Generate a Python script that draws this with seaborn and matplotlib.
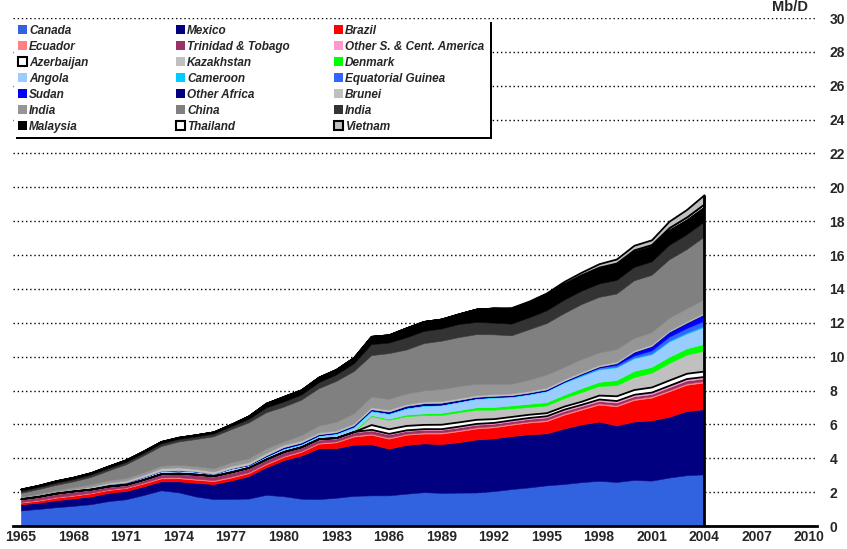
import matplotlib.pyplot as plt
import matplotlib.patches as mpatches
import seaborn as sns
import numpy as np

# Produção anual (Mb/D), 1965-2004
years = list(range(1965, 2005))

canada = [0.92, 1.01, 1.11, 1.19, 1.29, 1.47, 1.58, 1.83, 2.11, 1.99,
          1.74, 1.59, 1.60, 1.62, 1.84, 1.76, 1.61, 1.59, 1.67, 1.78,
          1.81, 1.81, 1.91, 2.00, 1.96, 1.97, 1.98, 2.06, 2.18, 2.28,
          2.40, 2.48, 2.59, 2.67, 2.60, 2.72, 2.68, 2.86, 3.00, 3.05]
mexico = [0.36, 0.37, 0.41, 0.44, 0.46, 0.49, 0.49, 0.51, 0.53, 0.65,
          0.81, 0.89, 1.09, 1.33, 1.63, 2.13, 2.55, 3.00, 2.93, 3.02,
          3.02, 2.76, 2.88, 2.88, 2.88, 2.98, 3.13, 3.12, 3.13, 3.14,
          3.07, 3.28, 3.41, 3.50, 3.34, 3.45, 3.56, 3.59, 3.79, 3.85]
brazil = [0.10, 0.12, 0.15, 0.16, 0.18, 0.17, 0.17, 0.17, 0.17, 0.18,
          0.18, 0.17, 0.17, 0.17, 0.17, 0.19, 0.22, 0.27, 0.34, 0.48,
          0.56, 0.59, 0.60, 0.58, 0.62, 0.65, 0.65, 0.65, 0.67, 0.69,
          0.72, 0.81, 0.87, 1.00, 1.13, 1.27, 1.34, 1.50, 1.55, 1.58]
ecuador = [0.04, 0.04, 0.04, 0.04, 0.04, 0.04, 0.04, 0.05, 0.06, 0.06,
           0.06, 0.06, 0.06, 0.06, 0.06, 0.06, 0.06, 0.06, 0.06, 0.07,
           0.07, 0.07, 0.06, 0.07, 0.07, 0.07, 0.07, 0.07, 0.07, 0.07,
           0.08, 0.08, 0.08, 0.08, 0.08, 0.08, 0.08, 0.08, 0.08, 0.08]
trinidad = [0.14, 0.16, 0.18, 0.19, 0.16, 0.14, 0.13, 0.14, 0.17, 0.19,
            0.22, 0.21, 0.23, 0.23, 0.21, 0.21, 0.19, 0.18, 0.16, 0.17,
            0.18, 0.17, 0.16, 0.15, 0.15, 0.15, 0.15, 0.14, 0.13, 0.14,
            0.14, 0.14, 0.13, 0.13, 0.14, 0.14, 0.13, 0.16, 0.17, 0.15]
other_sca = [0.05, 0.05, 0.05, 0.05, 0.05, 0.05, 0.05, 0.05, 0.05, 0.05,
             0.05, 0.05, 0.05, 0.05, 0.05, 0.05, 0.05, 0.06, 0.06, 0.06,
             0.07, 0.07, 0.07, 0.07, 0.07, 0.08, 0.08, 0.08, 0.09, 0.09,
             0.10, 0.11, 0.11, 0.12, 0.12, 0.12, 0.12, 0.12, 0.12, 0.12]
azerbaijan = [0.0] * 20 + [0.28, 0.27, 0.26, 0.25, 0.26, 0.25, 0.24, 0.22, 0.20, 0.19,
                           0.18, 0.18, 0.18, 0.23, 0.28, 0.28, 0.30, 0.31, 0.31, 0.32]
kazakhstan = [0.0] * 20 + [0.50, 0.53, 0.55, 0.55, 0.55, 0.57, 0.57, 0.53, 0.48, 0.43,
                           0.43, 0.47, 0.54, 0.54, 0.63, 0.74, 0.84, 1.00, 1.10, 1.20]
denmark = [0.0] * 15 + [0.01, 0.01, 0.03, 0.04, 0.05,
                        0.06, 0.07, 0.09, 0.10, 0.12, 0.12, 0.14, 0.16, 0.17, 0.19,
                        0.19, 0.20, 0.23, 0.24, 0.30, 0.36, 0.35, 0.37, 0.37, 0.41]
angola = [0.01, 0.01, 0.01, 0.02, 0.05, 0.10, 0.11, 0.14, 0.16, 0.17,
          0.16, 0.10, 0.20, 0.13, 0.14, 0.15, 0.13, 0.13, 0.18, 0.20,
          0.23, 0.28, 0.36, 0.45, 0.45, 0.48, 0.50, 0.55, 0.50, 0.55,
          0.65, 0.71, 0.72, 0.74, 0.75, 0.75, 0.74, 0.90, 0.87, 0.99]
cameroon = [0.0] * 13 + [0.01, 0.03,
                         0.04, 0.05, 0.05, 0.05, 0.06,
                         0.06, 0.06, 0.06, 0.05, 0.05, 0.05, 0.05, 0.05, 0.04, 0.04,
                         0.04, 0.04, 0.04, 0.04, 0.04, 0.04, 0.05, 0.05, 0.06, 0.07]
eq_guinea = [0.0] * 28 + [0.01, 0.01,
                          0.01, 0.02, 0.06, 0.08, 0.10, 0.12, 0.18, 0.24, 0.27, 0.30]
sudan = [0.0] * 34 + [0.06, 0.17, 0.21, 0.24, 0.27, 0.35]
other_africa = [0.0] * 13 + [0.02, 0.04,
                             0.06, 0.06, 0.05, 0.05, 0.06,
                             0.06, 0.08, 0.10, 0.10, 0.10, 0.08, 0.07, 0.06, 0.06, 0.06,
                             0.06, 0.05, 0.05, 0.05, 0.05, 0.05, 0.05, 0.05, 0.05, 0.05]
brunei = [0.06, 0.07, 0.07, 0.08, 0.09, 0.10, 0.11, 0.13, 0.16, 0.17,
          0.15, 0.15, 0.15, 0.15, 0.15, 0.14, 0.12, 0.10, 0.10, 0.11,
          0.11, 0.11, 0.10, 0.10, 0.10, 0.10, 0.10, 0.10, 0.10, 0.10,
          0.10, 0.10, 0.09, 0.09, 0.09, 0.09, 0.09, 0.08, 0.08, 0.08]
india = [0.06, 0.09, 0.11, 0.12, 0.14, 0.14, 0.15, 0.15, 0.15, 0.15,
         0.17, 0.18, 0.22, 0.23, 0.26, 0.19, 0.32, 0.42, 0.52, 0.59,
         0.63, 0.64, 0.62, 0.66, 0.71, 0.71, 0.67, 0.60, 0.57, 0.66,
         0.77, 0.72, 0.76, 0.74, 0.74, 0.73, 0.73, 0.75, 0.76, 0.79]
china = [0.22, 0.26, 0.30, 0.35, 0.44, 0.58, 0.82, 1.00, 1.16, 1.38,
         1.60, 1.90, 1.95, 2.12, 2.14, 2.06, 2.09, 2.20, 2.41, 2.50,
         2.45, 2.70, 2.60, 2.79, 2.85, 2.90, 2.93, 2.93, 2.86, 2.98,
         3.04, 3.18, 3.25, 3.28, 3.28, 3.40, 3.38, 3.45, 3.50, 3.70]
india_2 = [0.12, 0.12, 0.13, 0.13, 0.14, 0.14, 0.14, 0.14, 0.15, 0.15,
           0.15, 0.16, 0.17, 0.20, 0.28, 0.30, 0.30, 0.35, 0.38, 0.45,
           0.65, 0.62, 0.72, 0.72, 0.72, 0.77, 0.72, 0.69, 0.69, 0.70,
           0.75, 0.79, 0.79, 0.79, 0.80, 0.79, 0.79, 0.85, 0.87, 0.89]
malaysia = [0.10, 0.10, 0.11, 0.11, 0.11, 0.12, 0.12, 0.12, 0.12, 0.10,
            0.10, 0.10, 0.12, 0.18, 0.25, 0.30, 0.28, 0.30, 0.30, 0.35,
            0.46, 0.46, 0.56, 0.56, 0.56, 0.60, 0.76, 0.86, 0.86, 0.84,
            0.88, 0.89, 0.88, 0.90, 0.92, 0.89, 0.88, 0.87, 0.86, 0.85]
thailand = [0.0] * 28 + [0.03, 0.04,
                         0.05, 0.06, 0.06, 0.07, 0.08, 0.12, 0.12, 0.15, 0.17, 0.19]
vietnam = [0.0] * 28 + [0.06, 0.08,
                        0.10, 0.13, 0.15, 0.20, 0.24, 0.27, 0.28, 0.38, 0.44, 0.54]

series = [canada, mexico, brazil, ecuador, trinidad, other_sca,
          azerbaijan, kazakhstan, denmark, angola, cameroon, eq_guinea,
          sudan, other_africa, brunei, india, china, india_2,
          malaysia, thailand, vietnam]
names = ["Canada", "Mexico", "Brazil", "Ecuador", "Trinidad & Tobago",
         "Other S. & Cent. America", "Azerbaijan", "Kazakhstan", "Denmark",
         "Angola", "Cameroon", "Equatorial Guinea", "Sudan", "Other Africa",
         "Brunei", "India", "China", "India", "Malaysia", "Thailand", "Vietnam"]
colors = ["#3162e0", "#000080", "#ff0000", "#ff8080", "#993366", "#ff99cc",
          "#ffffff", "#c0c0c0", "#00ff00", "#99ccff", "#00ccff", "#3366ff",
          "#0000ff", "#000080", "#c0c0c0", "#969696", "#808080", "#333333",
          "#000000", "#ffffff", "#c0c0c0"]
outlined = [6, 19, 20]  # Azerbaijan, Thailand, Vietnam

sns.set_theme(style="white")
plt.rcParams['font.family'] = ['Liberation Sans', 'DejaVu Sans']

fig = plt.figure(figsize=(8.47, 5.49), dpi=100)
W, H = 847, 549
ax = fig.add_axes([13 / W, 1 - 526 / H, (817 - 13) / W, (526 - 18) / H])

polys = ax.stackplot(years, *series, colors=colors, zorder=2)
for i, p in enumerate(polys):
    if i in outlined:
        p.set_edgecolor("black")
        p.set_linewidth(1.3)
        p.set_zorder(3)
    else:
        p.set_edgecolor(colors[i])
        p.set_linewidth(0.4)

# linha vertical no último ano
total = np.sum(np.array(series), axis=0)
ax.vlines(years[-1], 0, total[-1], color="black", lw=2, zorder=4)

ax.set_xlim(1964.55, 2010.45)
ax.set_ylim(0, 30)
ax.set_xticks(range(1965, 2011, 3))
ax.set_yticks(range(0, 31, 2))
ax.yaxis.tick_right()
ax.yaxis.grid(True, linestyle=(0, (1, 2)), color="black", lw=1)
ax.xaxis.grid(False)
ax.set_axisbelow(True)
ax.tick_params(axis="y", length=0, pad=9, labelsize=10)
ax.tick_params(axis="x", length=0, pad=3, labelsize=10)
for lab in ax.get_xticklabels() + ax.get_yticklabels():
    lab.set_fontweight("bold")
sns.despine(ax=ax, left=True, right=True, top=True)
ax.spines["bottom"].set_color("black")
ax.spines["bottom"].set_linewidth(2)

fig.text(790 / W, 1 - 7 / H, "Mb/D", fontsize=10.5, fontweight="bold",
         ha="center", va="center")

# caixa da legenda com sombra preta
fig.add_artist(mpatches.Rectangle((16 / W, 1 - 139 / H), 476 / W, 117 / H,
                                  transform=fig.transFigure, facecolor="black",
                                  edgecolor="none", zorder=6))
fig.add_artist(mpatches.Rectangle((14 / W, 1 - 137 / H), 476 / W, 117 / H,
                                  transform=fig.transFigure, facecolor="white",
                                  edgecolor="none", zorder=7))

col_x = [18, 176, 334]
for c in range(3):
    handles = []
    for i in range(c, len(names), 3):
        ec = "black" if i in outlined else colors[i]
        handles.append(mpatches.Patch(facecolor=colors[i], edgecolor=ec,
                                      linewidth=1.5 if i in outlined else 0,
                                      label=names[i]))
    leg = fig.legend(handles=handles, loc="upper left",
                     bbox_to_anchor=(col_x[c] / W, 1 - 25 / H),
                     bbox_transform=fig.transFigure, frameon=False,
                     borderpad=0, borderaxespad=0, handlelength=0.8,
                     handleheight=0.8, handletextpad=0.15, labelspacing=0.34,
                     prop=dict(weight="bold", style="italic", size=8.5))
    leg.set_zorder(8)

plt.savefig("out.png", dpi=100)
